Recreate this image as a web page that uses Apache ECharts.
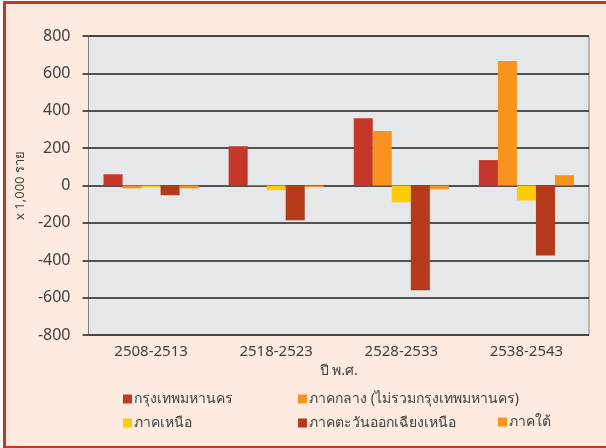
<!DOCTYPE html>
<html>
<head>
<meta charset="utf-8">
<script src="https://cdn.jsdelivr.net/npm/echarts@6/dist/echarts.min.js"></script>
<style>
	html, body { margin: 0; padding: 0; background: #fff; }
	#chart {
		position: absolute; left: 3px; top: 1px;
		width: 610px; height: 442px;
		background: #fdebdf;
		border: 3px solid #c1391f;
		border-right: none;
	}
</style>
</head>
<body>
<div id="chart"></div>
<script>
	// ช่วงปี
	var categories = ['2508-2513', '2518-2523', '2528-2533', '2538-2543'];
	// ชื่อชุดข้อมูล
	var seriesNames = ['กรุงเทพมหานคร', 'ภาคกลาง (ไม่รวมกรุงเทพมหานคร)', 'ภาคเหนือ', 'ภาคตะวันออกเฉียงเหนือ', 'ภาคใต้'];
	// ค่า (x 1,000 ราย)
	var bangkok = [60, 210, 360, 136];
	var central = [-15, -3, 291, 666];
	var north = [-8, -25, -90, -80];
	var northeast = [-52, -186, -561, -374];
	var south = [-15, -8, -20, 55];
	var yTicks = { min: -800, max: 800, interval: 200 };

	var colors = ['#c4372a', '#f7931e', '#ffcb05', '#b43a1a', '#f7931e'];
	var values = [bangkok, central, north, northeast, south];
	var font = 'Noto Sans, sans-serif';

	var myChart = echarts.init(document.getElementById('chart'));

	var legendBase = {
		orient: 'vertical',
		itemWidth: 9,
		itemHeight: 9,
		itemGap: 10,
		icon: 'rect',
		textStyle: { color: '#414042', fontSize: 14, fontFamily: font, padding: [0, 0, 0, -3] }
	};

	myChart.setOption({
		color: colors,
		animation: false,
		grid: {
			left: 80, right: 27, top: 32, bottom: 111,
			show: true,
			backgroundColor: '#e6e7e8',
			borderColor: '#808080',
			borderWidth: 1
		},
		legend: [
			Object.assign({ left: 112, top: 383, data: [seriesNames[0], seriesNames[2]] }, legendBase),
			Object.assign({ left: 287, top: 383, data: [seriesNames[1], seriesNames[3]] }, legendBase),
			Object.assign({ left: 487, top: 406, data: [seriesNames[4]] }, legendBase)
		],
		xAxis: {
			type: 'category',
			data: categories,
			name: 'ปี พ.ศ.',
			nameLocation: 'middle',
			nameGap: 26,
			nameTextStyle: { color: '#414042', fontSize: 14, fontFamily: font },
			axisTick: { show: false },
			axisLine: { show: false },
			axisLabel: { color: '#414042', fontSize: 15, fontFamily: font, margin: 9 }
		},
		yAxis: {
			type: 'value',
			min: yTicks.min,
			max: yTicks.max,
			interval: yTicks.interval,
			name: 'x 1,000 ราย',
			nameLocation: 'middle',
			nameGap: 56,
			nameTextStyle: { color: '#414042', fontSize: 13, fontFamily: font },
			axisLine: { show: false },
			axisTick: { show: true, inside: false, length: 6, lineStyle: { color: '#231f20', width: 1.5 } },
			axisLabel: { color: '#414042', fontSize: 16, fontFamily: font, margin: 18 },
			splitLine: { lineStyle: { color: '#231f20', width: 1.5 } }
		},
		series: seriesNames.map(function (name, i) {
			return {
				name: name,
				type: 'bar',
				data: values[i],
				barGap: '0%',
				barCategoryGap: '24%'
			};
		})
	});
</script>
</body>
</html>
